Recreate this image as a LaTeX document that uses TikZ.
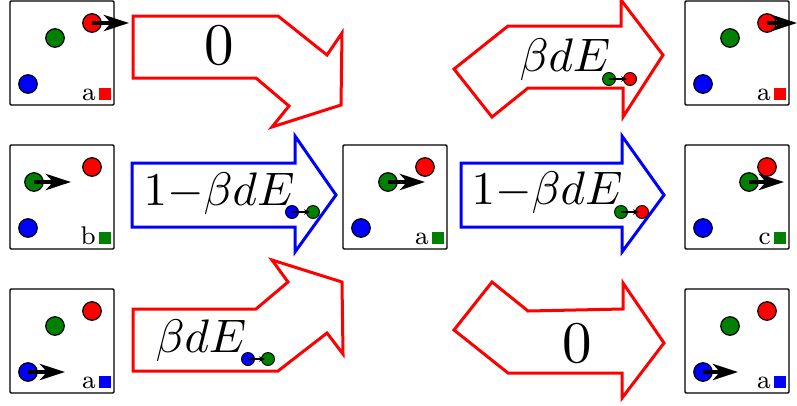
\RequirePackage{fix-cm}
\documentclass[tikz,border=0pt]{standalone}
\usetikzlibrary{arrows.meta}
\definecolor{dgreen}{rgb}{0,0.5,0}
\newcommand{\panel}[6]{%
  \node[panelbox] (#1) at (#2+52,#3+52) {};
  \node[ball,fill=red] (#1r) at (#2+82,#3+22) {};
  \node[ball,fill=dgreen] (#1g) at (#2+#4,#3+37) {};
  \node[ball,fill=blue] (#1b) at (#2+18,#3+83) {};
  \node[chip,fill=#6] (#1c) at (#2+95,#3+93) {};
  \node[tag,anchor=base east] (#1t) at (#2+86,#3+99) {\scalebox{3.2}{\footnotesize #5}};
}
\begin{document}
\begin{tikzpicture}[x=1pt,y=-1pt,
  panelbox/.style={draw=black,line width=1.4pt,rounded corners=1.2pt,minimum width=104pt,minimum height=104pt,inner sep=0pt},
  ball/.style={circle,draw=black,line width=1.2pt,minimum size=18.5pt,inner sep=0pt},
  miniball/.style={circle,draw=black,line width=0.9pt,minimum size=13pt,inner sep=0pt},
  tag/.style={inner sep=0pt},
  chip/.style={minimum size=12pt,inner sep=0pt},
  push/.style={line width=4.5pt,-{Stealth[length=25pt,width=16pt,inset=7pt]}},
  minipush/.style={line width=1.3pt,-{Stealth[length=6pt,width=5.5pt]},shorten >=3pt},
  redarrow/.style={draw=red,line width=3pt,line join=miter},
  bluearrow/.style={draw=blue,line width=3pt,line join=miter},
  bigtxt/.style={inner sep=0pt,anchor=base},
  zerotxt/.style={inner sep=0pt,anchor=base}]
\useasboundingbox (0,0) rectangle (797,405);

% block arrows
\draw[redarrow] (133,16) -- (278,16) -- (327,55) -- (342,33) -- (341,105) -- (272,127) -- (289,106) -- (256,78) -- (133,78) -- cycle;
\draw[bluearrow] (132,163) -- (295,163) -- (295,136) -- (336,195) -- (295,252) -- (295,227) -- (132,227) -- cycle;
\draw[redarrow] (133,309) -- (256,309) -- (288,282) -- (272,260) -- (342,282) -- (343,354) -- (327,333) -- (278,371) -- (133,371) -- cycle;
\draw[redarrow] (454,69) -- (508,26) -- (621,26) -- (621,0) -- (663,55) -- (623,117) -- (623,88) -- (528,88) -- (492,117) -- cycle;
\draw[bluearrow] (461,163) -- (622,163) -- (622,136) -- (664,195) -- (622,252) -- (622,227) -- (461,227) -- cycle;
\draw[redarrow] (454,330) -- (492,282) -- (528,311) -- (623,309) -- (623,283) -- (664,343) -- (622,398) -- (622,373) -- (508,373) -- cycle;

% texts
\node[zerotxt] (z1) at (219,64) {\scalebox{5.9}{$0$}};
\node[bigtxt] (w1) at (219,205) {\scalebox{4.7}{$1{-}\beta dE$}};
\node[bigtxt] (w2) at (201,352) {\scalebox{4.7}{$\beta dE$}};
\node[bigtxt] (w3) at (565,71) {\scalebox{4.7}{$\beta dE$}};
\node[bigtxt] (w4) at (547,204) {\scalebox{4.7}{$1{-}\beta dE$}};
\node[zerotxt] (z2) at (577,362) {\scalebox{5.9}{$0$}};

% mini annotations
\node[miniball,fill=blue] (m1a) at (292,212) {};
\node[miniball,fill=dgreen] (m1b) at (313,212) {};
\draw[minipush] (m1a.center) -- (m1b.center);
\node[miniball,fill=blue] (m2a) at (248,359) {};
\node[miniball,fill=dgreen] (m2b) at (268,359) {};
\draw[minipush] (m2a.center) -- (m2b.center);
\node[miniball,fill=dgreen] (m3a) at (609,79) {};
\node[miniball,fill=red] (m3b) at (630,79) {};
\draw[minipush] (m3a.center) -- (m3b.center);
\node[miniball,fill=dgreen] (m4a) at (621,212) {};
\node[miniball,fill=red] (m4b) at (642,212) {};
\draw[minipush] (m4a.center) -- (m4b.center);

% panels
\panel{pa}{10}{1}{45}{a}{red}
\panel{pb}{10}{145}{24}{b}{dgreen}
\panel{pc}{10}{289}{45}{a}{blue}
\panel{pm}{343}{145}{45}{a}{dgreen}
\panel{qa}{685}{1}{45}{a}{red}
\panel{qb}{685}{145}{64}{c}{dgreen}
\panel{qc}{685}{289}{45}{a}{blue}

% moves
\coordinate (paE) at (129,23);
\coordinate (pbE) at (71,182);
\coordinate (pcE) at (65,372);
\coordinate (pmE) at (425,182);
\coordinate (qaE) at (797,23);
\coordinate (qbE) at (784,182);
\coordinate (qcE) at (738,372);
\draw[push] (par.center) -- (paE);
\draw[push] (pbg.center) -- (pbE);
\draw[push] (pcb.center) -- (pcE);
\draw[push] (pmg.center) -- (pmE);
\draw[push] (qar.center) -- (qaE);
\draw[push] (qbg.center) -- (qbE);
\draw[push] (qcb.center) -- (qcE);
\end{tikzpicture}
\end{document}
